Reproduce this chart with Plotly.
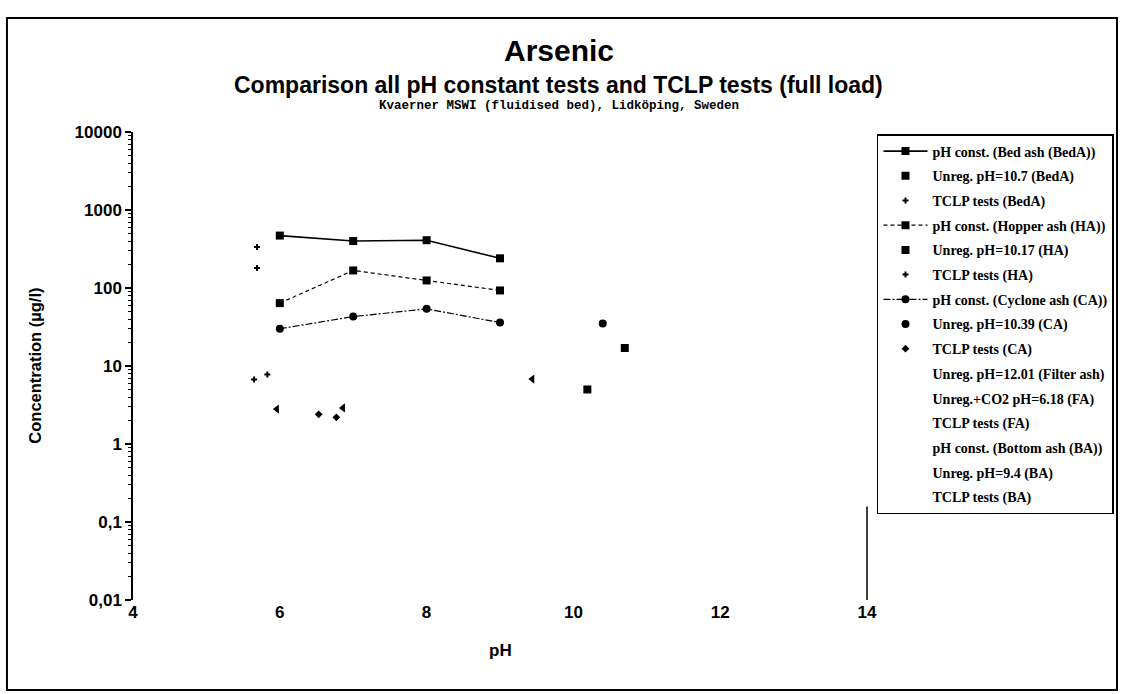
import plotly.graph_objects as go

# ---- data ----
ph_const = [6, 7, 8, 9]
bed_const = [470, 400, 410, 240]
hopper_const = [64, 168, 125, 93]
cyclone_const = [30, 43, 54, 36]

unreg_bed_x, unreg_bed_y = [10.70], [17]
unreg_ha_x, unreg_ha_y = [10.19], [5.0]
unreg_ca_x, unreg_ca_y = [10.40], [35]

tclp_bed_x, tclp_bed_y = [5.69, 5.69], [335, 180]
tclp_ha_x, tclp_ha_y = [5.65, 5.83], [6.7, 7.8]
tclp_ca_x, tclp_ca_y = [6.53, 6.77], [2.4, 2.2]
other_x, other_y = [5.96, 6.86, 9.44], [2.8, 2.9, 6.8]

empty_names = [
    "Unreg. pH=12.01 (Filter ash)",
    "Unreg.+CO2 pH=6.18 (FA)",
    "TCLP tests (FA)",
    "pH const. (Bottom ash (BA))",
    "Unreg. pH=9.4 (BA)",
    "TCLP tests (BA)",
]

y_tickvals = [0.01, 0.1, 1, 10, 100, 1000, 10000]
y_ticktext = ["0,01", "0,1", "1", "10", "100", "1000", "10000"]
x_tickvals = [4, 6, 8, 10, 12, 14]

SANS = "Liberation Sans, Arial, sans-serif"
SERIF = "Liberation Serif, Times New Roman, serif"
MONO = "Liberation Mono, Courier New, monospace"

fig = go.Figure()
k = [0]


def add(**kw):
    k[0] += 1
    kw.setdefault("legendgroup", "g%d" % k[0])
    fig.add_trace(go.Scatter(**kw))


add(x=ph_const, y=bed_const, mode="lines+markers", name="pH const. (Bed ash (BedA))",
    line=dict(color="black", width=1.6), marker=dict(symbol="square", size=8, color="black"))
add(x=unreg_bed_x, y=unreg_bed_y, mode="markers", name="Unreg. pH=10.7 (BedA)",
    marker=dict(symbol="square", size=8, color="black"))
add(x=tclp_bed_x, y=tclp_bed_y, mode="markers", name="TCLP tests (BedA)",
    marker=dict(symbol="cross", size=5, color="black"))
add(x=ph_const, y=hopper_const, mode="lines+markers", name="pH const. (Hopper ash (HA))",
    line=dict(color="black", width=1.2, dash="4px,3px"), marker=dict(symbol="square", size=8, color="black"))
add(x=unreg_ha_x, y=unreg_ha_y, mode="markers", name="Unreg. pH=10.17 (HA)",
    marker=dict(symbol="square", size=8, color="black"))
add(x=tclp_ha_x, y=tclp_ha_y, mode="markers", name="TCLP tests (HA)",
    marker=dict(symbol="cross", size=5, color="black"))
add(x=ph_const, y=cyclone_const, mode="lines+markers", name="pH const. (Cyclone ash (CA))",
    line=dict(color="black", width=1.2, dash="7px,2px,2px,2px"), marker=dict(symbol="circle", size=8, color="black"))
add(x=unreg_ca_x, y=unreg_ca_y, mode="markers", name="Unreg. pH=10.39 (CA)",
    marker=dict(symbol="circle", size=8, color="black"))
add(x=tclp_ca_x, y=tclp_ca_y, mode="markers", name="TCLP tests (CA)",
    marker=dict(symbol="diamond", size=6, color="black"))
for nm in empty_names:
    add(x=[None], y=[None], mode="markers", name=nm,
        marker=dict(size=6, color="rgba(0,0,0,0)"))
add(x=other_x, y=other_y, mode="markers", name="other", showlegend=False,
    marker=dict(symbol="triangle-left", size=8, color="black"))

fig.update_layout(
    width=1123, height=694,
    margin=dict(l=133, r=256, t=132, b=94, autoexpand=False),
    paper_bgcolor="white", plot_bgcolor="white",
    font=dict(family=SANS, color="black", size=14),
    showlegend=True,
    legend=dict(
        x=1.0136, y=0.9957, xanchor="left", yanchor="top",
        bgcolor="white", bordercolor="black", borderwidth=1.5,
        font=dict(family=SERIF, size=14, color="black", weight="bold"),
        traceorder="grouped", tracegroupgap=3.5,
        itemwidth=44,
    ),
    xaxis=dict(
        range=[4, 14], tickvals=x_tickvals, showline=False, zeroline=False, showgrid=False,
        ticks="", tickfont=dict(family=SANS, size=17, weight="bold"),
    ),
    yaxis=dict(
        type="log", range=[-2, 4], tickvals=y_tickvals, ticktext=y_ticktext,
        showline=True, linecolor="black", linewidth=1.5, showgrid=False, zeroline=False,
        ticks="outside", ticklen=6, tickwidth=1.5, tickcolor="black",
        minor=dict(ticks="outside", ticklen=3, tickwidth=1, tickcolor="black", dtick="D1", showgrid=False),
        tickfont=dict(family=SANS, size=17, weight="bold"),
    ),
)

fig.add_annotation(xref="paper", yref="paper", x=0.58, y=1.175, xanchor="center", yanchor="middle",
                   text="Arsenic", showarrow=False, font=dict(family=SANS, size=30, weight="bold"))
fig.add_annotation(xref="paper", yref="paper", x=0.58, y=1.100, xanchor="center", yanchor="middle",
                   text="Comparison all pH constant tests and TCLP tests (full load)",
                   showarrow=False, font=dict(family=SANS, size=23, weight="bold"))
fig.add_annotation(xref="paper", yref="paper", x=0.58, y=1.056, xanchor="center", yanchor="middle",
                   text="Kvaerner MSWI (fluidised bed), Lidköping, Sweden",
                   showarrow=False, font=dict(family=MONO, size=12.5, weight="bold"))
fig.add_annotation(xref="paper", yref="paper", x=-0.134, y=0.5, xanchor="center", yanchor="middle",
                   text="Concentration (µg/l)", textangle=-90, showarrow=False,
                   font=dict(family=SANS, size=16.5, weight="bold"))
fig.add_annotation(xref="paper", yref="paper", x=0.5, y=-0.107, xanchor="center", yanchor="middle",
                   text="pH", showarrow=False, font=dict(family=SANS, size=17, weight="bold"))

# outer frame of the chart and the visible piece of the plot-area right edge
fig.add_shape(type="rect", xref="paper", yref="paper", x0=-0.1717, x1=1.3406, y0=-0.1923, y1=1.2436,
              line=dict(color="black", width=2), fillcolor="rgba(0,0,0,0)", layer="below")
fig.add_shape(type="line", xref="paper", yref="paper", x0=1, x1=1, y0=0, y1=0.2,
              line=dict(color="black", width=1.5))

fig.write_html("out.html")
